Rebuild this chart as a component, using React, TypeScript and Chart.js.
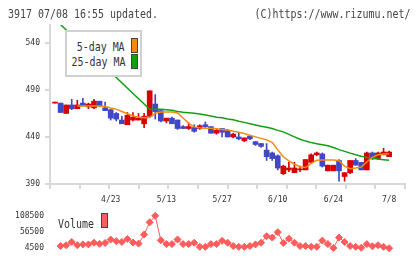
import React, { useEffect, useRef } from "react";
import { Chart, registerables } from "chart.js";

Chart.register(...registerables);

// Trading days shown on the chart (2020)
const dates = [
  "4/9", "4/10", "4/13", "4/14", "4/15", "4/16", "4/17", "4/20", "4/21", "4/22",
  "4/23", "4/24", "4/27", "4/28", "4/30", "5/1", "5/7", "5/8", "5/11", "5/12",
  "5/13", "5/14", "5/15", "5/18", "5/19", "5/20", "5/21", "5/22", "5/25", "5/26",
  "5/27", "5/28", "5/29", "6/1", "6/2", "6/3", "6/4", "6/5", "6/8", "6/9",
  "6/10", "6/11", "6/12", "6/15", "6/16", "6/17", "6/18", "6/19", "6/22", "6/23",
  "6/24", "6/25", "6/26", "6/29", "6/30", "7/1", "7/2", "7/3", "7/6", "7/7",
  "7/8",
];

const open = [
  476, 476, 465, 474, 470, 476, 472, 471, 478, 471,
  469, 465, 458, 453, 458, 458, 454, 462, 475, 468,
  457, 460, 458, 451, 449, 450, 449, 453, 451, 444,
  449, 447, 440, 440, 436, 441, 435, 433, 426, 423,
  420, 401, 405, 402, 405, 405, 413, 421, 422, 404,
  404, 415, 398, 402, 415, 413, 405, 423, 417, 421,
  419,
];
const high = [
  477, 476, 474, 480, 479, 481, 476, 480, 478, 477,
  469, 466, 462, 466, 466, 465, 465, 489, 485, 468,
  460, 461, 458, 452, 455, 453, 453, 456, 451, 449,
  449, 448, 444, 444, 439, 442, 435, 433, 433, 424,
  421, 410, 413, 413, 409, 416, 422, 424, 423, 410,
  410, 416, 402, 415, 417, 413, 424, 424, 424, 428,
  425,
];
const low = [
  476, 466, 465, 469, 470, 473, 470, 470, 472, 468,
  458, 457, 454, 453, 457, 458, 450, 462, 459, 456,
  455, 454, 448, 449, 448, 445, 448, 450, 444, 443,
  440, 440, 439, 437, 435, 437, 431, 429, 415, 415,
  405, 400, 403, 402, 403, 405, 412, 420, 408, 404,
  404, 393, 393, 401, 410, 405, 405, 416, 416, 421,
  419,
];
const close = [
  477, 466, 474, 470, 474, 473, 475, 478, 473, 468,
  460, 459, 454, 463, 461, 460, 462, 489, 467, 457,
  460, 454, 449, 449, 451, 446, 452, 451, 444, 447,
  445, 440, 443, 438, 439, 438, 432, 430, 419, 417,
  407, 409, 407, 407, 406, 416, 421, 423, 409, 410,
  410, 404, 402, 415, 410, 405, 423, 417, 423, 424,
  424,
];

const ma5 = [
  null, null, null, null, 472.9, 472.9, 472.9, 472.9, 472.9, 472.4,
  470.8, 469.6, 467.1, 464.7, 462.3, 461.0, 460.5, 460.7, 465.2, 466.6,
  466.6, 466.6, 465.5, 460.2, 454.4, 450.7, 449.8, 449.3, 449.3, 448.6,
  448.0, 447.3, 446.1, 444.9, 443.6, 441.7, 440.1, 438.5, 436.9, 434.3,
  426.3, 418.9, 414.7, 411.0, 408.3, 407.5, 412.0, 415.2, 415.4, 415.4,
  415.4, 414.7, 408.9, 406.2, 407.0, 408.0, 413.6, 418.4, 421.0, 421.8,
  422.1,
];

const ma25 = [
  565, null, null, null, null, null, null, null, null, null,
  null, null, null, null, null, null, null, 469.5, 469.5, 469.5,
  469.0, 468.4, 467.1, 466.3, 465.8, 465.2, 464.5, 463.4, 462.3, 461.0,
  460.4, 459.2, 458.3, 456.7, 455.5, 454.1, 452.8, 451.4, 450.4, 448.9,
  447.0, 445.4, 442.8, 440.1, 437.5, 435.6, 434.0, 432.9, 431.8, 430.6,
  428.8, 426.5, 424.7, 422.8, 421.0, 419.4, 418.2, 417.1, 416.6, 415.9,
  415.2,
];

const volume = [
  null, 11500, 14100, 24600, 14100, 16700, 16700, 22000, 18500, 21100,
  32400, 27200, 24600, 34200, 22800, 19300, 48200, 87500, 108500, 29800,
  17600, 17600, 32400, 17600, 17600, 22000, 8900, 8900, 17600, 17600,
  28100, 22000, 11500, 8900, 8900, 11500, 16700, 22000, 42900, 38600,
  56000, 21100, 35100, 22000, 11500, 11500, 8900, 8900, 28900, 17600,
  5400, 38600, 24600, 11500, 8900, 6200, 17600, 10600, 14100, 8900,
  4500,
];

const dateTicks = ["4/23", "5/13", "5/27", "6/10", "6/24", "7/8"];
const priceTicks = [390, 440, 490, 540];
const volumeTicks = [4500, 56500, 108500];

const MONO = '"DejaVu Sans Mono", monospace';
const RED = "#d80000";
const BLUE = "#4048c4";
const ORANGE = "#f08c10";
const GREEN = "#12a012";
const VOL = "#ff5c5c";
const AXIS = "#d8d8d8";
const TEXT = "#333";

// index range of the shared horizontal axis
const X_MIN = -0.9;
const X_MAX = 62.85;

export default function App() {
  const priceRef = useRef<HTMLCanvasElement>(null);
  const volRef = useRef<HTMLCanvasElement>(null);

  useEffect(() => {
    const idx = dates.map((_, i) => i);
    const colors = idx.map((i) => (close[i] >= open[i] ? RED : BLUE));
    const tickFont = { family: MONO, size: 8 };

    const price = new Chart(priceRef.current!, {
      type: "bar",
      data: {
        datasets: [
          {
            type: "line",
            label: "5-day MA",
            xAxisID: "x",
            data: idx.map((i) => ({ x: i, y: ma5[i] })) as any,
            borderColor: ORANGE,
            borderWidth: 1.5,
            pointRadius: 0,
            order: 0,
          },
          {
            type: "line",
            label: "25-day MA",
            xAxisID: "x",
            data: idx.map((i) => ({ x: i, y: ma25[i] })) as any,
            borderColor: GREEN,
            borderWidth: 1.5,
            pointRadius: 0,
            spanGaps: true,
            order: 0,
          },
          {
            type: "bar",
            label: "body",
            xAxisID: "x",
            data: idx.map((i) => ({ x: i, y: [open[i], close[i]] })) as any,
            backgroundColor: colors,
            barThickness: 5,
            minBarLength: 1,
            grouped: false,
            order: 1,
          },
          {
            type: "bar",
            label: "wick",
            xAxisID: "x",
            data: idx.map((i) => ({ x: i, y: [low[i], high[i]] })) as any,
            backgroundColor: colors,
            barThickness: 1,
            grouped: false,
            order: 2,
          },
        ],
      },
      options: {
        animation: false,
        responsive: false,
        maintainAspectRatio: false,
        layout: { padding: { top: 25, right: 15, left: 0, bottom: 0 } },
        plugins: { legend: { display: false }, tooltip: { enabled: false } },
        scales: {
          x: {
            type: "linear",
            position: "bottom",
            min: X_MIN,
            max: X_MAX,
            offset: false,
            weight: 1,
            grid: { display: false, drawTicks: false },
            border: { display: false },
            afterBuildTicks: (s: any) => {
              s.ticks = dateTicks.map((d) => ({ value: dates.indexOf(d) }));
            },
            ticks: {
              font: tickFont,
              color: TEXT,
              padding: 6,
              maxRotation: 0,
              autoSkip: false,
              callback: (v: any) => dates[v],
            },
            afterFit: (s: any) => {
              s.height = 16;
            },
          },
          xg: {
            type: "linear",
            position: "bottom",
            min: 0,
            max: 11,
            weight: 0,
            ticks: { display: false, stepSize: 1 },
            grid: { drawOnChartArea: false, tickLength: 5, color: AXIS, lineWidth: 2 },
            border: { color: AXIS, width: 2 },
            afterFit: (s: any) => {
              s.height = 5;
            },
          },
          y: {
            type: "linear",
            min: 390,
            max: 559,
            afterBuildTicks: (s: any) => {
              s.ticks = priceTicks.map((v) => ({ value: v }));
            },
            ticks: { font: tickFont, color: TEXT, padding: 5, callback: (v: any) => String(v) },
            grid: { drawOnChartArea: false, tickLength: 5, color: AXIS, lineWidth: 2 },
            border: { color: AXIS, width: 2 },
            afterFit: (s: any) => {
              s.width = 50;
            },
          },
        },
      } as any,
    });

    const vol = new Chart(volRef.current!, {
      type: "line",
      data: {
        datasets: [
          {
            label: "Volume",
            data: idx.map((i) => ({ x: i, y: volume[i] })) as any,
            borderColor: VOL,
            backgroundColor: VOL,
            borderWidth: 1,
            pointStyle: "rectRot",
            pointRadius: 3.5,
            pointBorderWidth: 1,
            clip: false as any,
          },
        ],
      },
      options: {
        animation: false,
        responsive: false,
        maintainAspectRatio: false,
        layout: { padding: { top: 4.3, right: 15, left: 0, bottom: 10 } },
        plugins: { legend: { display: false }, tooltip: { enabled: false } },
        scales: {
          x: { type: "linear", min: X_MIN, max: X_MAX, display: false },
          y: {
            type: "linear",
            min: 4500,
            max: 108500,
            afterBuildTicks: (s: any) => {
              s.ticks = volumeTicks.map((v) => ({ value: v }));
            },
            ticks: { font: tickFont, color: TEXT, padding: 6, callback: (v: any) => String(v) },
            grid: { display: false, drawTicks: false },
            border: { display: false },
            afterFit: (s: any) => {
              s.width = 50;
            },
          },
        },
      } as any,
    });

    return () => {
      price.destroy();
      vol.destroy();
    };
  }, []);

  // narrow monospace lettering: 13px glyphs squeezed to a 6px pitch
  const label = (origin: "left" | "right"): React.CSSProperties => ({
    position: "absolute",
    fontFamily: MONO,
    fontSize: 13,
    lineHeight: "15px",
    whiteSpace: "pre",
    color: "#444",
    transform: "scaleX(0.766)",
    transformOrigin: origin,
  });
  const swatch = (bg: string): React.CSSProperties => ({
    position: "absolute",
    width: 6.5,
    background: bg,
    border: "1px solid #444",
    boxSizing: "border-box",
  });

  return (
    <div
      style={{
        position: "absolute",
        left: 0,
        top: 0,
        width: 420,
        height: 259,
        background: "#fff",
        overflow: "hidden",
      }}
    >
      <canvas
        ref={priceRef}
        width={420}
        height={205}
        style={{ position: "absolute", left: 0, top: 0, display: "block" }}
      />
      <canvas
        ref={volRef}
        width={420}
        height={54}
        style={{ position: "absolute", left: 0, top: 205, display: "block" }}
      />
      <div style={{ ...label("left"), left: 7.6, top: 6 }}>3917 07/08 16:55 updated.</div>
      <div style={{ ...label("right"), right: 9.7, top: 6 }}>(C)https://www.rizumu.net/</div>

      <div
        style={{
          position: "absolute",
          left: 65,
          top: 30,
          width: 77,
          height: 47,
          background: "#fff",
          border: "2px solid #d0d0d0",
          boxSizing: "border-box",
        }}
      />
      <div style={{ ...label("right"), color: TEXT, right: 294.9, top: 39.2, textAlign: "right" }}>5-day MA</div>
      <div style={{ ...label("right"), color: TEXT, right: 294.9, top: 54.2, textAlign: "right" }}>25-day MA</div>
      <div style={{ ...swatch(ORANGE), left: 131, top: 38, height: 14.5 }} />
      <div style={{ ...swatch(GREEN), left: 131, top: 54, height: 14.5 }} />

      <div style={{ ...label("left"), color: TEXT, left: 58, top: 215.8 }}>Volume</div>
      <div style={{ ...swatch(VOL), left: 101, top: 213, height: 15 }} />
    </div>
  );
}
